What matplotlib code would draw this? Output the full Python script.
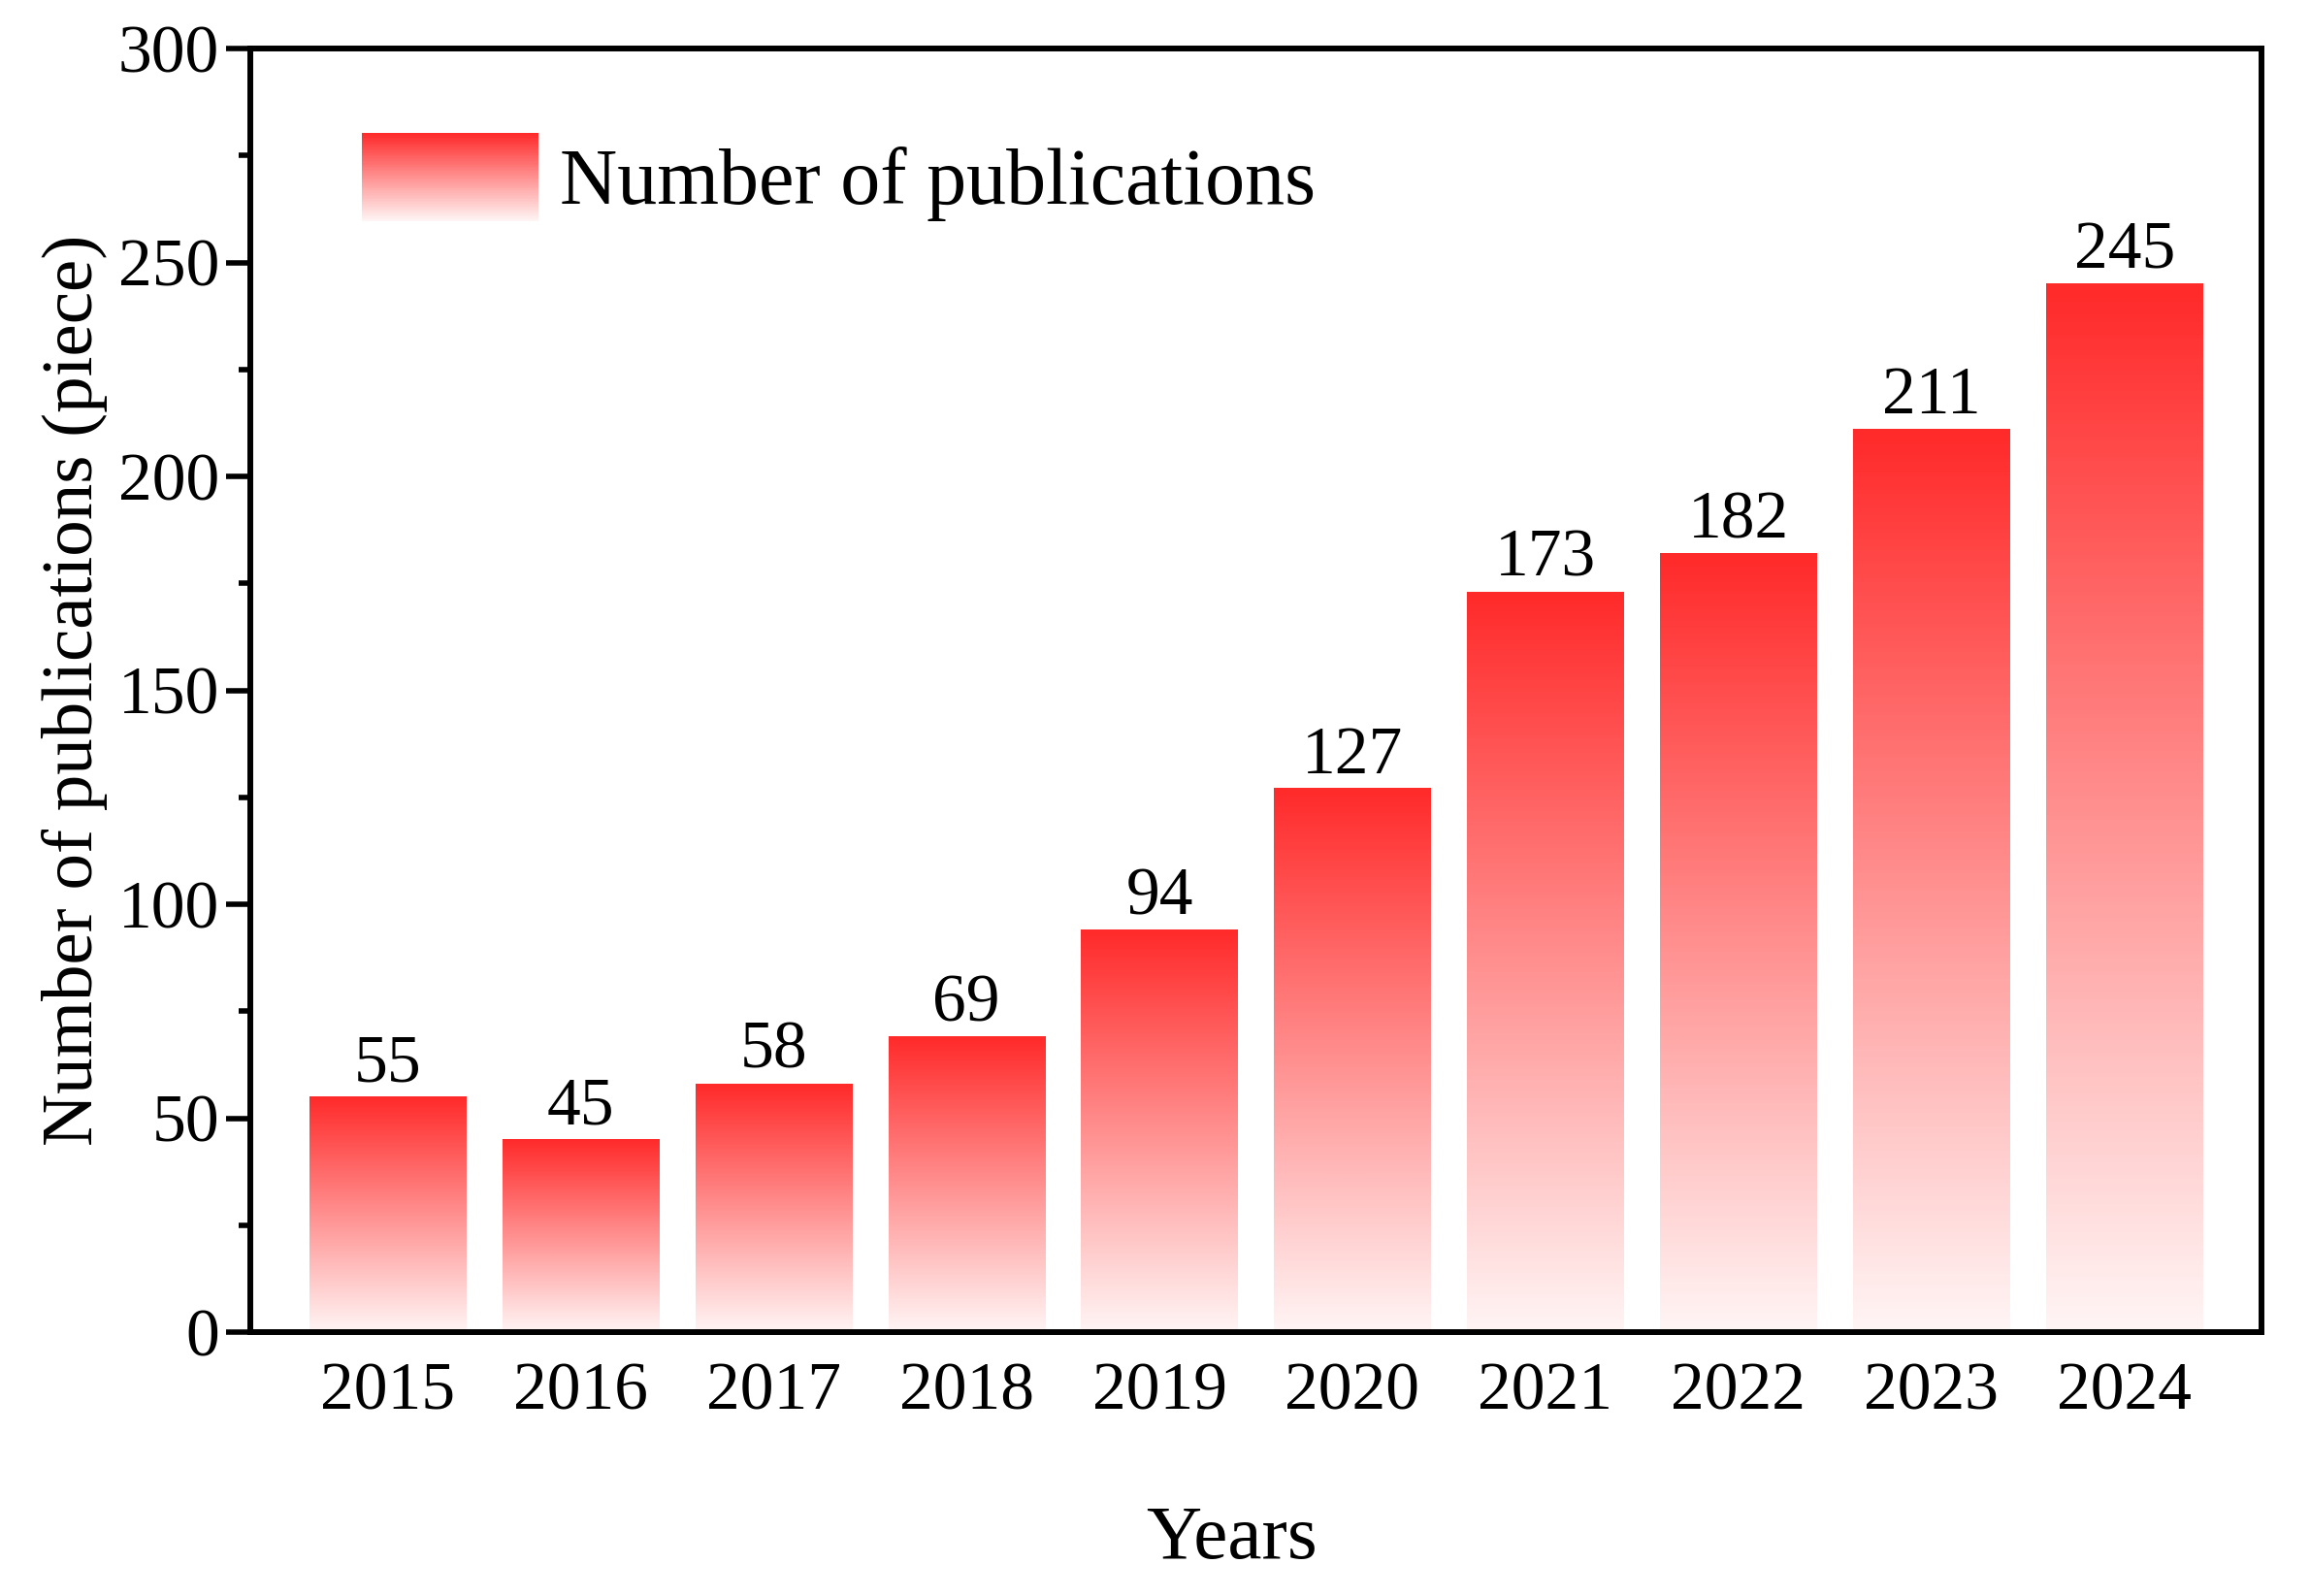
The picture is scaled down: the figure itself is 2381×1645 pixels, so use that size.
import matplotlib
matplotlib.use('Agg')
import matplotlib.pyplot as plt
import numpy as np
from matplotlib.legend_handler import HandlerBase
from matplotlib.patches import Rectangle
from matplotlib.colors import LinearSegmentedColormap
from matplotlib.ticker import MultipleLocator

years = ['2015', '2016', '2017', '2018', '2019', '2020', '2021', '2022', '2023', '2024']
counts = [55, 45, 58, 69, 94, 127, 173, 182, 211, 245]

plt.rcParams['font.family'] = ['Liberation Serif', 'DejaVu Serif']

TOP = '#ff2a2a'
BOTTOM = '#fff5f5'
cmap = LinearSegmentedColormap.from_list('redfade', [BOTTOM, TOP])
grad = np.linspace(0, 1, 256).reshape(-1, 1)


class GradientHandler(HandlerBase):
    # legend key drawn as stacked thin stripes to fake the fade
    def create_artists(self, legend, orig_handle, xdescent, ydescent,
                       width, height, fontsize, trans):
        n = 60
        arts = []
        for i in range(n):
            c = cmap(1 - (i + 0.5) / n)
            r = Rectangle((-xdescent, -ydescent + height * (1 - (i + 1) / n)),
                          width, height / n * 1.05, facecolor=c, edgecolor='none',
                          transform=trans)
            arts.append(r)
        return arts


fig = plt.figure(figsize=(23.81, 16.45), dpi=100)
ax = fig.add_axes([258 / 2381, 1 - 1373 / 1645, (2331 - 258) / 2381, (1373 - 50) / 1645])

x = np.arange(len(years))
bars = ax.bar(x, counts, width=0.81, color='none', edgecolor='none', zorder=1)
for b in bars:
    x0, w, h = b.get_x(), b.get_width(), b.get_height()
    ax.imshow(grad, cmap=cmap, origin='lower', aspect='auto',
              extent=[x0, x0 + w, 0, h], zorder=1, interpolation='bicubic')

for xi, v in zip(x, counts):
    ax.text(xi, v + 0.3, str(v), ha='center', va='bottom', fontsize=50)

ax.set_xlim(-0.71, len(years) - 1 + 0.71)
ax.set_ylim(0, 300)
ax.set_xticks(x)
ax.set_xticklabels(years)
ax.yaxis.set_major_locator(MultipleLocator(50))
ax.yaxis.set_minor_locator(MultipleLocator(25))
ax.tick_params(axis='y', which='major', direction='out', length=18, width=4, labelsize=50, pad=5)
ax.tick_params(axis='y', which='minor', direction='out', length=9, width=4)
ax.tick_params(axis='x', which='both', length=0, labelsize=50, pad=22)
for s in ax.spines.values():
    s.set_linewidth(4.3)

ax.set_xlabel('Years', fontsize=57)
ax.xaxis.set_label_coords(0.488, -0.135)
ax.set_ylabel('Number of publications (piece)', fontsize=54, labelpad=8)

proxy = Rectangle((0, 0), 1, 1)
ax.legend([proxy], ['Number of publications'], handler_map={Rectangle: GradientHandler()},
          loc='upper left', bbox_to_anchor=(0.0557, 0.934), frameon=False, fontsize=59,
          handlelength=2.22, handleheight=1.32, handletextpad=0.26, borderaxespad=0,
          borderpad=0)

fig.savefig('out.png', dpi=100)
